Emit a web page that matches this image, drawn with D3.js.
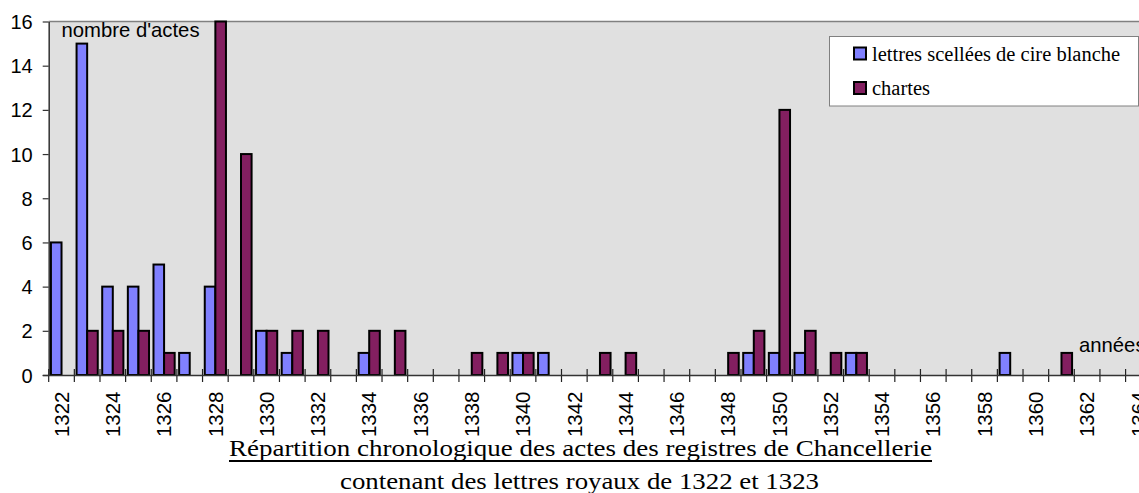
<!DOCTYPE html>
<html>
<head>
<meta charset="utf-8">
<script src="https://cdn.jsdelivr.net/npm/d3@7"></script>
<style>
  html, body { margin: 0; padding: 0; background: #fff; }
  svg { display: block; }
</style>
</head>
<body>
<svg id="chart" width="1139" height="493"></svg>
<script>
// ---- data ----
const years = d3.range(1322, 1365); // 1322 .. 1364
const seriesNames = ["lettres scellées de cire blanche", "chartes"];
const lettres = [6,15,4,4,5,1,4,0,2,1,0,0,1,0,0,0,0,0,1,1,0,0,0,0,0,0,0,1,1,1,0,1,0,0,0,0,0,1,0,0,0,0,0];
const chartes = [0,2,2,2,1,0,16,10,2,2,2,0,2,2,0,0,1,1,1,0,0,1,1,0,0,0,1,2,12,2,1,1,0,0,0,0,0,0,0,1,0,0,0];
const yTicks = [0,2,4,6,8,10,12,14,16];
const labelYears = years.filter(y => (y - 1322) % 2 === 0);
const yAxisTitle = "nombre d'actes";
const xAxisTitle = "années";
const titleLine1 = "Répartition chronologique des actes des registres de Chancellerie";
const titleLine2 = "contenant des lettres royaux de 1322 et 1323";
const colors = ["#8080ff", "#831f60"];

// ---- layout ----
const SANS = "'Liberation Sans', Arial, sans-serif";
const SERIF = "'Liberation Serif', 'Times New Roman', serif";
const svg = d3.select("#chart");
const pLeft = 48.7, pTop = 21.5, pBottom = 375;
const step = 25.64;
const pRight = pLeft + step * years.length;

const x0 = d3.scaleBand().domain(years).range([pLeft, pRight]).padding(0);
const x1 = d3.scaleBand().domain([0, 1]).range([0, x0.bandwidth()]).paddingInner(0).paddingOuter(0.21);
const y = d3.scaleLinear().domain([0, 16]).range([pBottom, pTop]);

// plot background
svg.append("rect").attr("x", pLeft).attr("y", pTop).attr("width", pRight - pLeft).attr("height", pBottom - pTop)
  .attr("fill", "#e0e0e0");
// top border
svg.append("line").attr("x1", pLeft).attr("x2", 1139).attr("y1", pTop).attr("y2", pTop)
  .attr("stroke", "#808080").attr("stroke-width", 1.5);

// x axis boundary ticks (cross the axis)
const lastYear = years[years.length - 1];
const bounds = years.concat([lastYear + 1]);
svg.append("g").selectAll("line").data(bounds).join("line")
  .attr("x1", d => d <= lastYear ? x0(d) : pRight)
  .attr("x2", d => d <= lastYear ? x0(d) : pRight)
  .attr("y1", pBottom - 6).attr("y2", pBottom + 7)
  .attr("stroke", "#222").attr("stroke-width", 1.2);

// bars
const data = years.map((yr, i) => ({ yr, vals: [lettres[i], chartes[i]] }));
const groups = svg.append("g").selectAll("g").data(data).join("g")
  .attr("transform", d => `translate(${x0(d.yr)},0)`);
groups.selectAll("rect")
  .data(d => d.vals.map((v, k) => ({ v, k })).filter(o => o.v > 0))
  .join("rect")
  .attr("x", o => x1(o.k))
  .attr("width", x1.bandwidth())
  .attr("y", o => y(o.v))
  .attr("height", o => pBottom - y(o.v))
  .attr("fill", o => colors[o.k])
  .attr("stroke", "#000").attr("stroke-width", 2);

// y axis
const yAxis = svg.append("g").attr("transform", `translate(${pLeft},0)`)
  .call(d3.axisLeft(y).tickValues(yTicks).tickSize(6).tickSizeOuter(0).tickPadding(10));
yAxis.select(".domain").attr("stroke", "#333").attr("stroke-width", 1.5);
yAxis.selectAll(".tick line").attr("stroke", "#333").attr("stroke-width", 1.2);
yAxis.selectAll(".tick text")
  .attr("dy", "0.35em")
  .attr("font-family", SANS)
  .attr("font-size", 20).attr("fill", "#000");

// x axis (labels every 2 years, at category centres)
const xAxis = svg.append("g").attr("transform", `translate(0,${pBottom})`)
  .call(d3.axisBottom(x0).tickValues(labelYears).tickSize(0).tickSizeOuter(0).tickPadding(0));
xAxis.select(".domain").attr("d", `M${pLeft - 6},0.5H1139`).attr("stroke", "#333").attr("stroke-width", 1.5);
xAxis.selectAll(".tick text")
  .attr("y", null).attr("dy", null)
  .attr("transform", `translate(0,16.5) rotate(-90)`)
  .attr("text-anchor", "end")
  .attr("dy", "0.35em")
  .attr("font-family", SANS)
  .attr("font-size", 20.5).attr("fill", "#000");

// axis titles
svg.append("text").attr("x", 61.5).attr("y", 37)
  .attr("font-family", SANS).attr("font-size", 20.3)
  .text(yAxisTitle);
svg.append("text").attr("x", 1079).attr("y", 352)
  .attr("font-family", SANS).attr("font-size", 20.3)
  .text(xAxisTitle);

// legend
const lg = svg.append("g");
lg.append("rect").attr("x", 829.5).attr("y", 36.5).attr("width", 309).attr("height", 69.5)
  .attr("fill", "#fff").attr("stroke", "#808080").attr("stroke-width", 1);
const legendRows = [{ name: seriesNames[0], c: colors[0], yb: 60.5 }, { name: seriesNames[1], c: colors[1], yb: 95 }];
legendRows.forEach(r => {
  lg.append("rect").attr("x", 854).attr("y", r.yb - 13).attr("width", 12).attr("height", 12)
    .attr("fill", r.c).attr("stroke", "#000").attr("stroke-width", 2);
  lg.append("text").attr("x", 872).attr("y", r.yb)
    .attr("font-family", SERIF).attr("font-size", 20.5)
    .text(r.name);
});

// title
svg.append("text").attr("x", 580.5).attr("y", 456).attr("text-anchor", "middle")
  .attr("font-family", SERIF).attr("font-size", 23)
  .attr("textLength", 703).attr("lengthAdjust", "spacingAndGlyphs")
  .text(titleLine1);
svg.append("line").attr("x1", 229).attr("x2", 932).attr("y1", 461).attr("y2", 461)
  .attr("stroke", "#000").attr("stroke-width", 1.8);
svg.append("text").attr("x", 579.5).attr("y", 489).attr("text-anchor", "middle")
  .attr("font-family", SERIF).attr("font-size", 23)
  .attr("textLength", 479).attr("lengthAdjust", "spacingAndGlyphs")
  .text(titleLine2);
</script>
</body>
</html>
